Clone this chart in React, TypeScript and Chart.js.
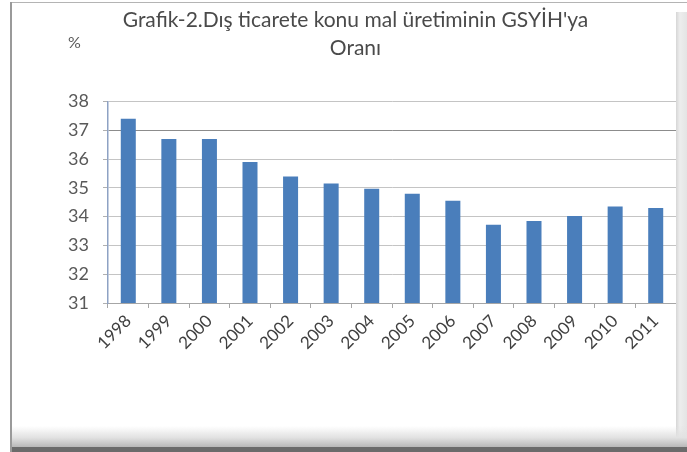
import React, { useEffect, useRef } from "react";
import { Chart, registerables } from "chart.js";

Chart.register(...registerables);

const years = ["1998", "1999", "2000", "2001", "2002", "2003", "2004", "2005", "2006", "2007", "2008", "2009", "2010", "2011"];
const ratios = [37.4, 36.7, 36.7, 35.9, 35.4, 35.15, 34.97, 34.8, 34.55, 33.72, 33.85, 34.02, 34.35, 34.3];
const yMin = 31;
const yMax = 38;
const titleLines = ["Grafik-2.Dış ticarete konu mal üretiminin GSYİH'ya", "Oranı"];
const unitLabel = "%";

const FONT = "Lato, 'Open Sans', sans-serif";
const TEXT = "#595959";

const unitPlugin = {
  id: "unitLabel",
  afterDraw(chart: any) {
    const { ctx, chartArea } = chart;
    ctx.save();
    ctx.font = `16px ${FONT}`;
    ctx.fillStyle = TEXT;
    ctx.textAlign = "left";
    ctx.textBaseline = "middle";
    ctx.fillText(unitLabel, chartArea.left - 40, 43);
    ctx.restore();
  },
};

export default function App() {
  const ref = useRef<HTMLCanvasElement | null>(null);

  useEffect(() => {
    if (!ref.current) return;
    const chart = new Chart(ref.current, {
      type: "bar",
      data: {
        labels: years,
        datasets: [
          {
            data: ratios,
            backgroundColor: "#4a7ebb",
            borderWidth: 0,
            barPercentage: 0.37,
            categoryPercentage: 1,
          },
        ],
      },
      plugins: [unitPlugin],
      options: {
        responsive: false,
        animation: false,
        devicePixelRatio: 1,
        layout: { padding: { left: 35, right: 11, top: 0, bottom: 0 } },
        plugins: {
          legend: { display: false },
          tooltip: { enabled: false },
          title: {
            display: true,
            text: titleLines,
            color: "#4a4a4a",
            font: { family: FONT, size: 21, weight: "normal", lineHeight: 1.3 },
            padding: { top: 7, bottom: 40 },
          },
        },
        scales: {
          x: {
            afterFit: (s: any) => {
              s.height = 149;
            },
            grid: {
              offset: true,
              drawOnChartArea: false,
              drawTicks: true,
              tickLength: 5,
              tickColor: "#a6a6a6",
            },
            border: { color: "#a6a6a6", width: 1 },
            ticks: {
              color: "#404040",
              font: { family: FONT, size: 17 },
              minRotation: 45,
              maxRotation: 45,
              padding: 3,
            },
          },
          y: {
            min: yMin,
            max: yMax,
            afterFit: (s: any) => {
              s.width = 73;
            },
            grid: {
              color: (c: any) => (c.tick && c.tick.value === 37 ? "#8c8c8c" : "#c4c4c4"),
              tickLength: 5,
              tickColor: "#b0b0b0",
            },
            border: { color: "#8ea2c4", width: 1.5 },
            ticks: {
              stepSize: 1,
              color: TEXT,
              font: { family: FONT, size: 18 },
              padding: 14,
            },
          },
        },
      },
    });
    return () => chart.destroy();
  }, []);

  return (
    <div style={{ position: "absolute", left: 0, top: 0, width: 687, height: 452, background: "#ffffff", overflow: "hidden" }}>
      <canvas ref={ref} width={687} height={452} style={{ position: "absolute", left: 0, top: 0, width: 687, height: 452 }} />
      <div style={{ position: "absolute", left: 10, top: 2, width: 677, height: 1, background: "#b4b4b4" }} />
      <div style={{ position: "absolute", left: 10, top: 2, width: 2, height: 450, background: "#9a9a9a" }} />
      <div
        style={{
          position: "absolute",
          left: 676,
          top: 12,
          width: 11,
          height: 440,
          background: "linear-gradient(to right, #d6d6d6 0%, #ededed 35%, #e4e4e4 100%)",
        }}
      />
      <div
        style={{
          position: "absolute",
          left: 12,
          top: 426,
          width: 675,
          height: 21,
          background: "linear-gradient(to bottom, rgba(255,255,255,0) 0%, #e2e2e2 55%, #b8b8b8 100%)",
        }}
      />
      <div style={{ position: "absolute", left: 12, top: 447, width: 675, height: 5, background: "#6b6b6b" }} />
    </div>
  );
}
